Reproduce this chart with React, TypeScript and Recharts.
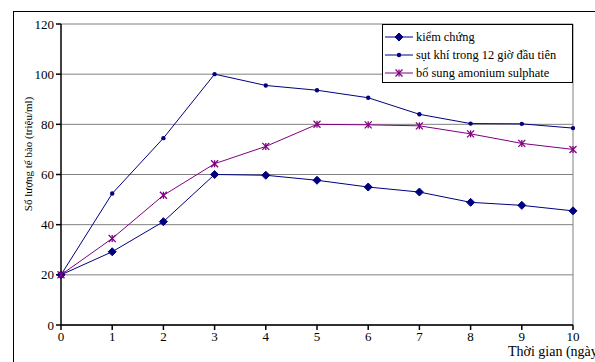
import React from 'react';
import {
  LineChart,
  Line,
  XAxis,
  YAxis,
  CartesianGrid,
  ReferenceLine,
} from 'recharts';

// ngày
const days = [0, 1, 2, 3, 4, 5, 6, 7, 8, 9, 10];
const kiemChung = [20, 29.2, 41.2, 60, 59.7, 57.7, 55, 53, 48.9, 47.7, 45.5];
const sutKhi = [20, 52.4, 74.5, 100, 95.5, 93.6, 90.6, 84, 80.3, 80.2, 78.5];
const boSung = [20, 34.5, 51.7, 64.3, 71.2, 80, 79.8, 79.4, 76.2, 72.4, 70];
const yTicks = [0, 20, 40, 60, 80, 100, 120];

const NAVY = '#000080';
const PURPLE = '#800080';
const FONT = 'Liberation Serif, serif';

const data = days.map((d, i) => ({
  day: d,
  kc: kiemChung[i],
  sk: sutKhi[i],
  bs: boSung[i],
}));

const Diamond = (props: any) => {
  const { cx, cy } = props;
  if (cx == null || cy == null) return null;
  const s = 4;
  return (
    <polygon
      points={`${cx},${cy - s} ${cx + s},${cy} ${cx},${cy + s} ${cx - s},${cy}`}
      fill={NAVY}
      stroke={NAVY}
    />
  );
};

const SmallDot = (props: any) => {
  const { cx, cy } = props;
  if (cx == null || cy == null) return null;
  return <circle cx={cx} cy={cy} r={2.2} fill={NAVY} stroke="none" />;
};

const Star = (props: any) => {
  const { cx, cy } = props;
  if (cx == null || cy == null) return null;
  const s = 3.5;
  return (
    <g stroke={PURPLE} strokeWidth={1.3}>
      <line x1={cx - s} y1={cy - s} x2={cx + s} y2={cy + s} />
      <line x1={cx - s} y1={cy + s} x2={cx + s} y2={cy - s} />
      <line x1={cx} y1={cy - s} x2={cx} y2={cy + s} />
    </g>
  );
};

const legendItems = [
  { label: 'kiểm chứng', color: NAVY, Marker: Diamond },
  { label: 'sụt khí trong 12 giờ đầu tiên', color: NAVY, Marker: SmallDot },
  { label: 'bổ sung amonium sulphate', color: PURPLE, Marker: Star },
];

const App: React.FC = () => {
  return (
    <div
      style={{
        position: 'absolute',
        left: 0,
        top: 0,
        width: 595,
        height: 362,
        background: '#fff',
        overflow: 'hidden',
        fontFamily: FONT,
      }}
    >
      {/* khung ngoài */}
      <div
        style={{
          position: 'absolute',
          left: 13,
          top: 11,
          width: 600,
          height: 400,
          border: '1px solid #000',
        }}
      />
      <div style={{ position: 'absolute', left: 0, top: 0 }}>
        <LineChart
          width={595}
          height={362}
          data={data}
          margin={{ top: 24, right: 22, left: 0, bottom: 0 }}
          style={{ fontFamily: FONT }}
        >
          <CartesianGrid vertical={false} stroke="#808080" strokeWidth={1} />
          <XAxis
            dataKey="day"
            type="number"
            domain={[0, 10]}
            ticks={days}
            height={37}
            stroke="#000"
            strokeWidth={1.5}
            tickSize={5}
            tick={{ fill: '#000', fontSize: 13, fontFamily: FONT }}
            interval={0}
          />
          <YAxis
            domain={[0, 120]}
            ticks={yTicks}
            width={61}
            stroke="#000"
            strokeWidth={1.5}
            tickSize={5}
            tick={{ fill: '#000', fontSize: 13, fontFamily: FONT }}
            interval={0}
          />
          <ReferenceLine x={10} stroke="#808080" />
          <Line
            type="linear"
            dataKey="kc"
            stroke={NAVY}
            strokeWidth={1}
            dot={<Diamond />}
            isAnimationActive={false}
          />
          <Line
            type="linear"
            dataKey="sk"
            stroke={NAVY}
            strokeWidth={1}
            dot={<SmallDot />}
            isAnimationActive={false}
          />
          <Line
            type="linear"
            dataKey="bs"
            stroke={PURPLE}
            strokeWidth={1}
            dot={<Star />}
            isAnimationActive={false}
          />
        </LineChart>
      </div>
      {/* nhãn trục Y */}
      <div
        style={{
          position: 'absolute',
          left: 28,
          top: 154,
          transform: 'translate(-50%, -50%) rotate(-90deg)',
          whiteSpace: 'nowrap',
          fontSize: 11,
          color: '#000',
        }}
      >
        Số lượng tế bào (triệu/ml)
      </div>
      {/* nhãn trục X */}
      <div
        style={{
          position: 'absolute',
          left: 508,
          top: 344,
          whiteSpace: 'nowrap',
          fontSize: 14,
          color: '#000',
        }}
      >
        Thời gian (ngày)
      </div>
      {/* chú giải */}
      <div
        style={{
          position: 'absolute',
          left: 382,
          top: 24,
          width: 191,
          height: 59,
          border: '1px solid #000',
          background: '#fff',
          boxSizing: 'border-box',
          overflow: 'hidden',
        }}
      >
        {legendItems.map((it, i) => (
          <div
            key={it.label}
            style={{
              position: 'absolute',
              left: 0,
              top: 3 + i * 18,
              height: 18,
              display: 'flex',
              alignItems: 'center',
              whiteSpace: 'nowrap',
              fontSize: 12.4,
              color: '#000',
            }}
          >
            <svg width={32} height={18} style={{ flex: 'none' }}>
              <line x1={2} y1={9} x2={30} y2={9} stroke={it.color} strokeWidth={1} />
              <it.Marker cx={16} cy={9} />
            </svg>
            <span style={{ marginLeft: 1 }}>{it.label}</span>
          </div>
        ))}
      </div>
    </div>
  );
};

export default App;
